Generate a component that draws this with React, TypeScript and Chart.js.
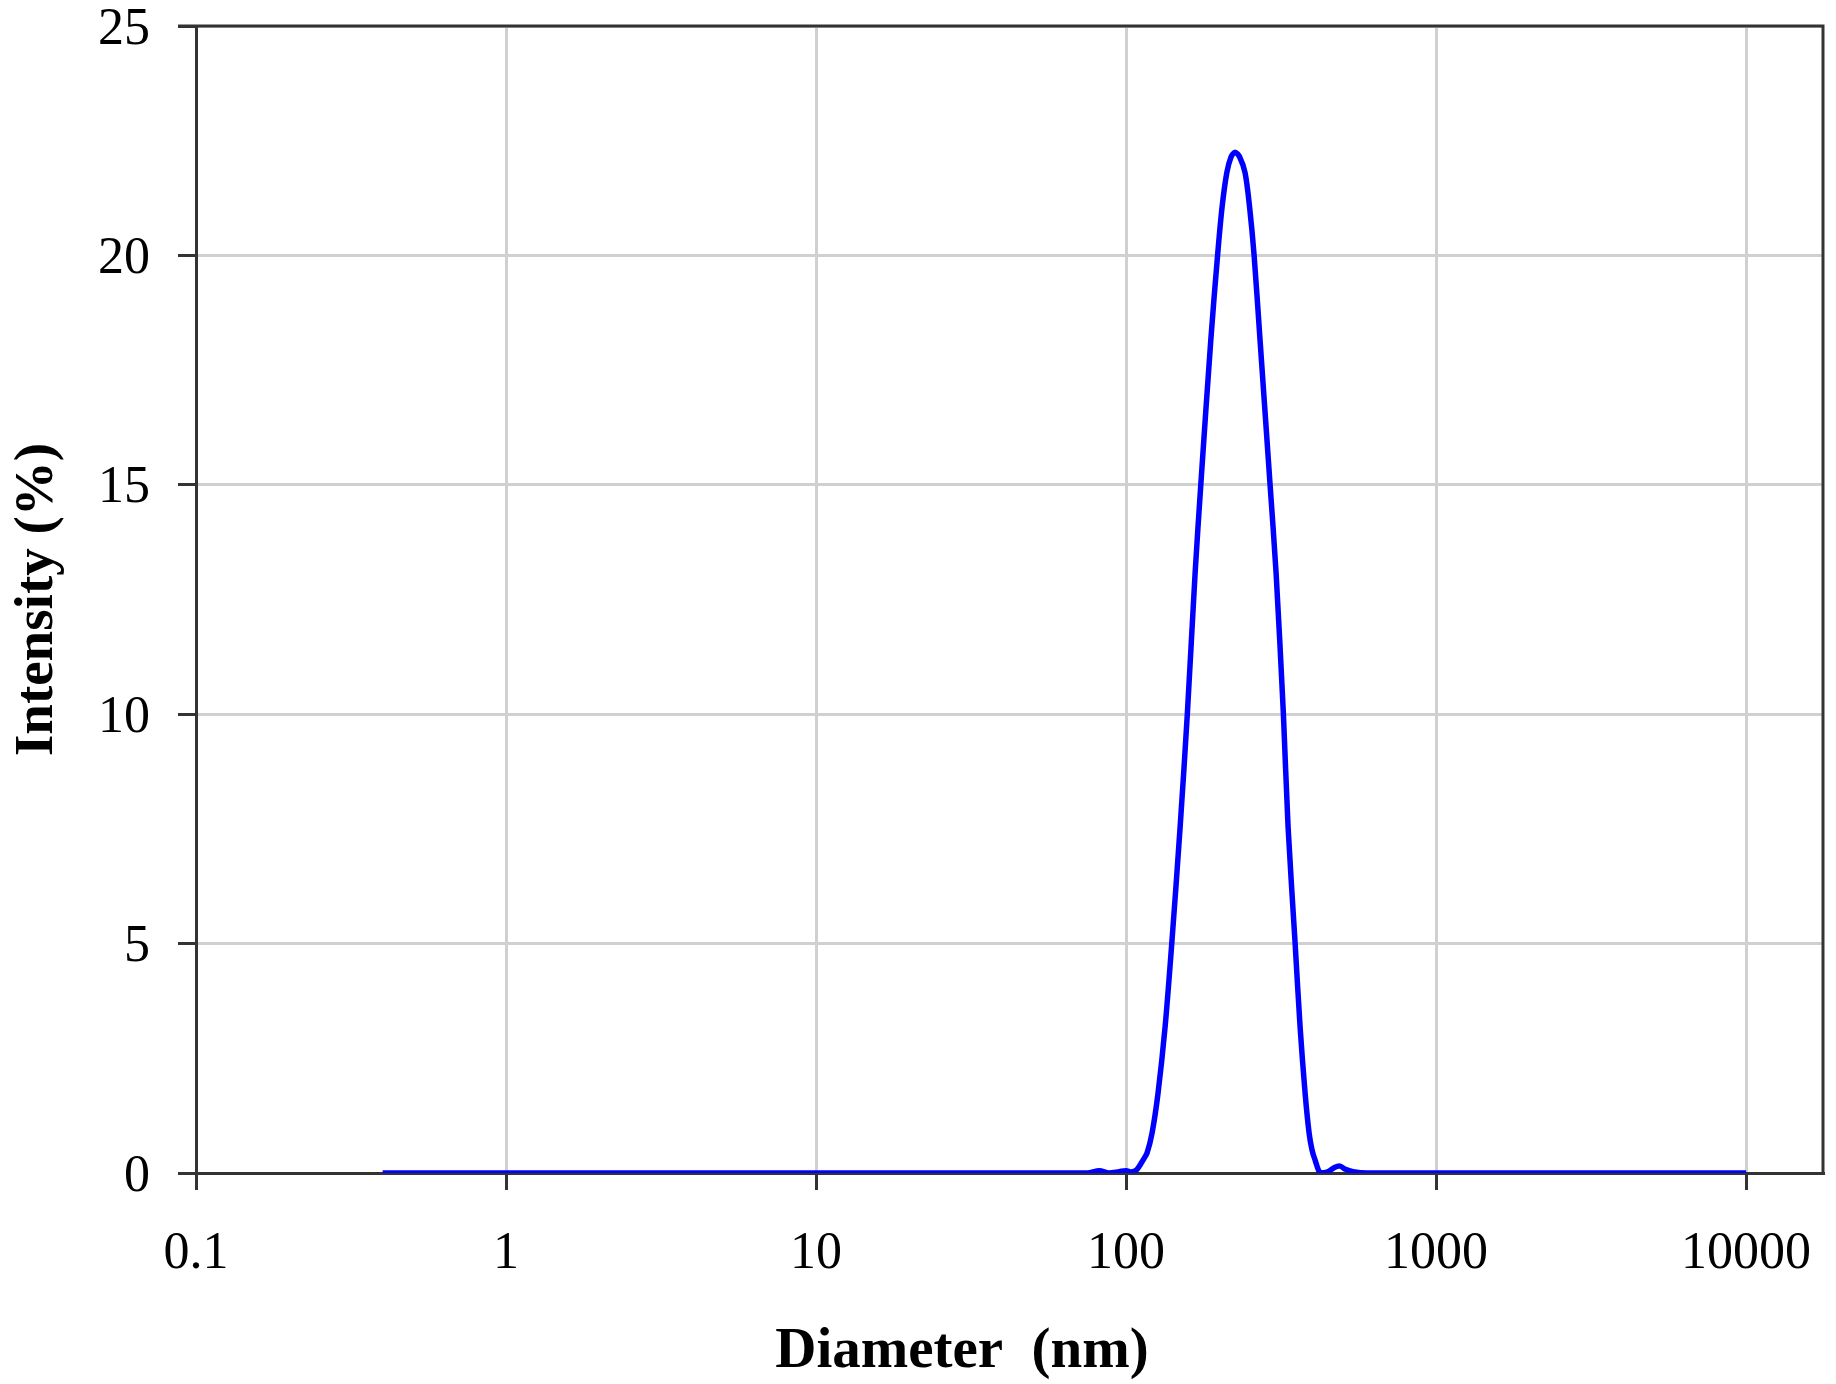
import React, { useEffect, useRef } from "react";
import { Chart, registerables } from "chart.js";

Chart.register(...registerables);

// Particle size distribution (DLS)
const diameters = [
  0.4, 1, 10, 50, 75, 82, 88, 95, 100, 104, 108.5, 113.4, 116.9, 121.3, 126.8,
  133.6, 140.4, 149.4, 157.6, 167.0, 174.2, 187.6, 197.3, 204.0, 211.3, 218.2,
  224.7, 232.3, 242.0, 250.3, 258.8, 270.5, 291.4, 304.7, 321.7, 333.1, 351.0,
  364.2, 378.0, 389.4, 398, 407.2, 422.6, 445, 470, 490, 510, 540, 600, 1000,
  10000,
];
const intensities = [
  0, 0, 0, 0, 0, 0.05, 0, 0.03, 0.05, 0.02, 0.08, 0.28, 0.44, 0.87, 1.74,
  3.18, 5.0, 7.54, 10.0, 13.08, 15.0, 18.15, 20.0, 21.05, 21.8, 22.15,
  22.25, 22.15, 21.8, 21.05, 20.0, 18.15, 15.0, 13.08, 10.0, 7.54, 5.0,
  3.18, 1.74, 0.87, 0.5, 0.28, 0, 0.02, 0.12, 0.15, 0.08, 0.03, 0, 0,
  0,
];
const xTickValues = [0.1, 1, 10, 100, 1000, 10000];
const yTickValues = [0, 5, 10, 15, 20, 25];
const xTitle = "Diameter  (nm)";
const yTitle = "Intensity (%)";

const SERIF = '"Liberation Serif", "Times New Roman", serif';

export default function App() {
  const ref = useRef<HTMLCanvasElement | null>(null);

  useEffect(() => {
    if (!ref.current) return;

    const framePlugin = {
      id: "frame",
      beforeDatasetsDraw(chart: any) {
        const { ctx, chartArea } = chart;
        const { left, right, top, bottom } = chartArea;
        ctx.save();
        ctx.strokeStyle = "#333333";
        ctx.lineWidth = 3;
        ctx.beginPath();
        ctx.moveTo(left - 18, top);
        ctx.lineTo(right, top);
        ctx.lineTo(right, bottom + 1.5);
        ctx.stroke();
        ctx.restore();
      },
    };

    const titlesPlugin = {
      id: "axisTitles",
      afterDraw(chart: any) {
        const { ctx, chartArea } = chart;
        ctx.save();
        ctx.fillStyle = "#000000";
        ctx.textAlign = "center";
        ctx.textBaseline = "alphabetic";
        ctx.font = `bold 57px ${SERIF}`;
        ctx.fillText(xTitle, chartArea.left + 766, chartArea.bottom + 194);
        ctx.font = `bold 55px ${SERIF}`;
        ctx.translate(52, (chartArea.top + chartArea.bottom) / 2);
        ctx.rotate(-Math.PI / 2);
        ctx.fillText(yTitle, 0, 0);
        ctx.restore();
      },
    };

    const points = diameters.map((d, i) => ({ x: d, y: intensities[i] }));

    const chart = new Chart(ref.current, {
      type: "line",
      data: {
        datasets: [
          {
            data: points,
            borderColor: "#0000ff",
            borderWidth: 5.5,
            pointRadius: 0,
            fill: false,
            tension: 0.3,
          },
        ],
      },
      options: {
        responsive: false,
        animation: false,
        devicePixelRatio: 1,
        layout: { padding: { top: 26, right: 13, left: 0, bottom: 0 } },
        plugins: {
          legend: { display: false },
          tooltip: { enabled: false },
          title: { display: false },
        },
        scales: {
          x: {
            type: "logarithmic",
            min: 0.1,
            max: 17700,
            afterBuildTicks: (scale: any) => {
              scale.ticks = xTickValues.map((v) => ({ value: v }));
            },
            afterFit: (scale: any) => {
              scale.height = 211;
              scale.paddingLeft = 0;
              scale.paddingRight = 0;
            },
            ticks: {
              autoSkip: false,
              maxRotation: 0,
              minRotation: 0,
              padding: 33,
              color: "#000000",
              font: { family: SERIF, size: 52 },
              callback: (v: any) => String(v),
            },
            grid: {
              color: "#d0d0d0",
              lineWidth: 3,
              tickColor: "#333333",
              tickWidth: 3,
              tickLength: 17,
            },
            border: { color: "#333333", width: 3 },
          },
          y: {
            type: "linear",
            min: 0,
            max: 25,
            afterBuildTicks: (scale: any) => {
              scale.ticks = yTickValues.map((v) => ({ value: v }));
            },
            afterFit: (scale: any) => {
              scale.width = 196;
              scale.paddingTop = 0;
              scale.paddingBottom = 0;
            },
            ticks: {
              padding: 28,
              labelOffset: 4,
              color: "#000000",
              font: { family: SERIF, size: 52 },
              callback: (v: any) => String(v),
            },
            grid: {
              color: "#d0d0d0",
              lineWidth: 3,
              tickColor: "#333333",
              tickWidth: 3,
              tickLength: 18,
            },
            border: { color: "#333333", width: 3 },
          },
        },
      },
      plugins: [framePlugin, titlesPlugin],
    });

    return () => chart.destroy();
  }, []);

  return (
    <div style={{ position: "absolute", left: 0, top: 0, width: 1836, height: 1384, background: "#ffffff" }}>
      <canvas ref={ref} width={1836} height={1384} style={{ display: "block" }} />
    </div>
  );
}
